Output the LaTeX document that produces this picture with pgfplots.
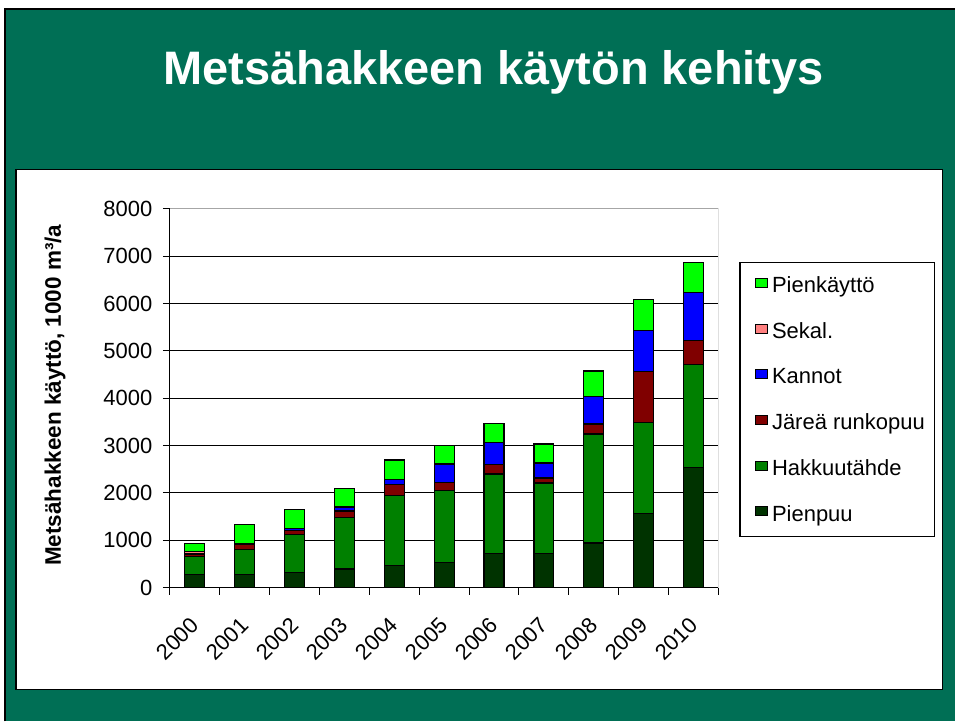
\documentclass[border=0pt]{standalone}
\usepackage{pgfplots}
\pgfplotsset{compat=1.18}
\usepackage{pgfplotstable}
\usepackage{fontspec}
\setmainfont{Liberation Sans}
\definecolor{slide}{HTML}{006F55}
\definecolor{cPienpuu}{HTML}{003300}
\definecolor{cHakkuu}{HTML}{008000}
\definecolor{cJarea}{HTML}{800000}
\definecolor{cKannot}{HTML}{0000FF}
\definecolor{cSekal}{HTML}{FF8080}
\definecolor{cPienk}{HTML}{00FF00}

\pgfplotstableread{
x pienpuu hakkuu jarea kannot sekal pienk
0 270 390 50 0 50 170
1 270 530 120 0 0 405
2 312 800 100 40 0 400
3 390 1085 142 85 0 397
4 468 1475 234 113 0 405
5 532 1525 156 397 0 390
6 716 1684 196 471 0 393
7 716 1494 106 316 0 400
8 940 2302 211 582 0 538
9 1558 1932 1081 852 0 670
10 2533 2178 509 1005 0 649
}\data

\pgfplotsset{legsq/.style={legend image code/.code={\path[draw=none,fill=none] (0pt,0pt) rectangle (22pt,0pt);\draw[##1,draw=black,line width=0.8pt] (7pt,-2pt) rectangle (19pt,7pt);}}}

\begin{document}
\begin{tikzpicture}[x=1pt,y=1pt]
\fill[white] (0,0) rectangle (956,722);
\fill[slide] (5,0) rectangle (956,713);
\draw[black, line width=1.5pt] (5,0) -- (5,713) -- (956,713);
\draw[black, line width=1.2pt, fill=white] (16,32) rectangle (943,552);
\node[anchor=base, text=white, font=\fontsize{47}{56}\selectfont\bfseries, inner sep=0pt] at (494,637) {Metsähakkeen käytön kehitys};
\begin{axis}[
  at={(170pt,134pt)}, anchor=south west,
  scale only axis, width=549pt, height=379pt,
  ymin=0, ymax=8000, xmin=-0.5, xmax=10.5,
  ybar stacked, bar width=20pt,
  axis lines*=left,
  axis line style={line width=1.2pt, black},
  tick align=outside,
  major tick length=7pt, minor tick length=7pt,
  ytick={0,1000,...,8000},
  scaled y ticks=false,
  /pgf/number format/1000 sep={},
  /pgf/number format/assume math mode=true,
  tick label style={font=\fontsize{22}{26}\selectfont},
  every major y tick/.append style={black, line width=1pt},
  yticklabel style={xshift=-7pt},
  xtick={0,...,10},
  xticklabels={2000,2001,2002,2003,2004,2005,2006,2007,2008,2009,2010},
  every major x tick/.append style={draw=none},
  minor xtick={-0.5,0.5,...,10.5},
  every minor x tick/.append style={black, line width=1pt},
  xticklabel style={anchor=east, rotate=45, inner sep=0pt},
  xticklabel shift=27pt,
  ymajorgrids,
  major grid style={black, line width=0.8pt},
  ylabel={Metsähakkeen käyttö, 1000 m³/a},
  every axis y label/.style={at={(axis description cs:-0.2095,0.508)}, rotate=90, anchor=center, font=\fontsize{22.5}{27}\selectfont\bfseries},
  legend style={at={(rel axis cs:1.0383,0.860)}, anchor=north west, draw=black, line width=1.2pt, font=\fontsize{22}{26}\selectfont, row sep=24.5pt, inner xsep=8pt, inner ysep=12pt},
  legend cell align=left,
  reverse legend,
]
\addplot[fill=cPienpuu, draw=black, line width=1.2pt, legsq] table[x=x,y=pienpuu]{\data};
\addlegendentry{Pienpuu}
\addplot[fill=cHakkuu, draw=black, line width=1.2pt, legsq] table[x=x,y=hakkuu]{\data};
\addlegendentry{Hakkuutähde}
\addplot[fill=cJarea, draw=black, line width=1.2pt, legsq] table[x=x,y=jarea]{\data};
\addlegendentry{Järeä runkopuu}
\addplot[fill=cKannot, draw=black, line width=1.2pt, legsq] table[x=x,y=kannot]{\data};
\addlegendentry{Kannot}
\addplot[fill=cSekal, draw=black, line width=1.2pt, legsq] table[x=x,y=sekal]{\data};
\addlegendentry{Sekal.}
\addplot[fill=cPienk, draw=black, line width=1.2pt, legsq] table[x=x,y=pienk]{\data};
\addlegendentry{Pienkäyttö}
\draw[gray!70, line width=1pt] (rel axis cs:0,1) -- (rel axis cs:1,1) -- (rel axis cs:1,0);
\end{axis}
\end{tikzpicture}
\end{document}
